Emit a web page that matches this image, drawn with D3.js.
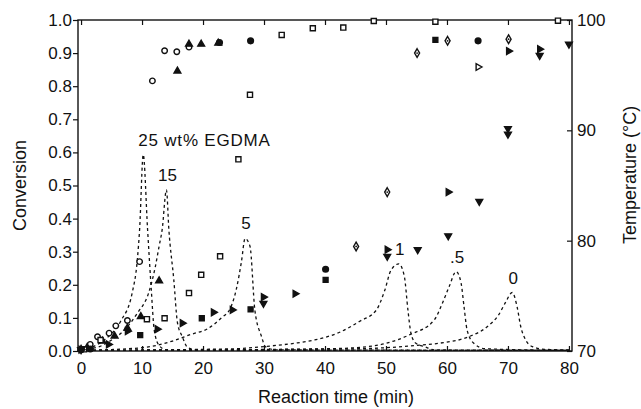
<!DOCTYPE html>
<html>
<head>
<meta charset="utf-8">
<script src="https://cdn.jsdelivr.net/npm/d3@7"></script>
<style>
  body { margin: 0; background: #fff; }
  text { font-family: "Liberation Sans", Arial, sans-serif; fill: #111; }
</style>
</head>
<body>
<div id="chart"></div>
<script>
// ---- data ----
const timeTicks = [0, 10, 20, 30, 40, 50, 60, 70, 80];
const convTicks = [0, 0.1, 0.2, 0.3, 0.4, 0.5, 0.6, 0.7, 0.8, 0.9, 1.0];
const tempTicks = [70, 80, 90, 100];

// conversion points [time (min), conversion], grouped by marker
const openCircles = [[0, 0.005], [1.5, 0.02], [2.7, 0.043], [4.6, 0.054], [5.7, 0.076], [7.6, 0.092], [9.6, 0.27], [11.7, 0.816], [13.7, 0.907], [15.7, 0.904], [17.7, 0.918]];
const filledTriangles = [[0, 0.005], [1, 0.01], [3.5, 0.03], [5.5, 0.045], [7.6, 0.069], [9.8, 0.104], [12.8, 0.212], [15.8, 0.846], [17.7, 0.927], [19.7, 0.927], [22.5, 0.93]];
const openSquares = [[0.5, 0.005], [3.2, 0.033], [10.8, 0.096], [13.7, 0.099], [17.7, 0.175], [19.7, 0.23], [22.8, 0.286], [25.8, 0.579], [27.7, 0.774], [32.9, 0.955], [38, 0.975], [43, 0.977], [48, 0.997], [58.1, 0.995], [78.2, 0.998]];
const filledCircles = [[0, 0.004], [1.5, 0.006], [22.7, 0.932], [27.8, 0.937], [40.1, 0.247], [65.1, 0.937]];
const filledSquares = [[9.7, 0.048], [19.8, 0.099], [27.8, 0.126], [40.1, 0.215], [58.1, 0.94]];
const openDiamonds = [[45.1, 0.316], [50.2, 0.48], [55.1, 0.9], [60.1, 0.937], [70.1, 0.942]];
const rightTriangles = [[0, 0.004], [4.5, 0.02], [7.6, 0.06], [12.5, 0.066], [16.6, 0.084], [21.7, 0.117], [24.8, 0.124], [29.9, 0.163], [35.1, 0.173], [50.2, 0.306], [60.2, 0.48], [70.1, 0.906], [75.2, 0.912]];
const openRightTriangles = [[65.1, 0.858]];
const downTriangles = [[0, 0.004], [29.9, 0.144], [50.2, 0.286], [55.2, 0.306], [60.2, 0.348], [65.3, 0.452], [70, 0.655], [70, 0.672], [75.2, 0.893], [80, 0.927]];

// temperature curves [time (min), temperature (C)]
const temp25 = [[0, 70.1], [2, 70.4], [3.8, 71.0], [6.5, 72.7], [8.4, 75.3], [9.2, 78.1], [9.6, 81.0], [10.2, 87.8], [10.9, 81.1], [11.5, 75.7], [12, 71.9], [12.8, 70.5], [14, 70.1], [20, 70.05], [80, 70.05]];
const temp15 = [[0, 70.1], [3, 70.4], [5, 71.0], [7.1, 71.9], [9.2, 73.4], [11.1, 75.3], [12.2, 77.7], [12.8, 79.5], [13.3, 81.0], [14, 84.6], [14.4, 81.0], [15.2, 76.5], [15.8, 72.6], [16.6, 71.3], [17.5, 70.3], [19, 70.1], [80, 70.05]];
const temp5 = [[0, 70.05], [10, 70.3], [15, 70.9], [18, 71.5], [20.7, 72.0], [23, 73.0], [24.5, 73.9], [25.5, 75.7], [26.3, 78.1], [26.9, 80.2], [27.7, 79.5], [28.5, 73.7], [29.6, 71.3], [30.2, 70.4], [32, 70.1], [80, 70.05]];
const temp1 = [[0, 70.05], [25, 70.2], [30, 70.4], [35, 70.7], [38.3, 71.0], [42.4, 71.7], [45.7, 72.7], [48.4, 73.7], [49.8, 75.5], [50.8, 77.3], [52.1, 77.9], [53, 76.8], [53.6, 73.7], [54.1, 71.6], [54.9, 70.7], [56.3, 70.4], [58, 70.1], [80, 70.05]];
const temp05 = [[0, 70.05], [40, 70.2], [45, 70.3], [50, 70.7], [54, 71.5], [57.9, 72.8], [59.3, 74.4], [60.4, 75.9], [61.5, 77.2], [62.3, 76.2], [62.8, 74.0], [63.3, 71.9], [64.4, 70.7], [66.3, 70.2], [80, 70.05]];
const temp0 = [[0, 70.05], [45, 70.2], [55, 70.5], [58.7, 70.7], [63.6, 71.3], [66.6, 72.2], [68.5, 73.3], [69.6, 74.4], [70.7, 75.3], [71.5, 74.0], [72.1, 72.2], [72.9, 71.0], [74, 70.4], [76, 70.15], [80, 70.1]];

const tempCurves = [temp25, temp15, temp5, temp1, temp05, temp0];
const curveLabels = ["25 wt% EGDMA", "15", "5", "1", ".5", "0"];

// ---- layout ----
const W = 641, H = 409;
const frame = { left: 78, right: 572, top: 20, bottom: 351 };

const svg = d3.select("#chart").append("svg")
    .attr("width", W)
    .attr("height", H);

const x = d3.scaleLinear().domain([-0.5, 80.5]).range([frame.left, frame.right]);
const y = d3.scaleLinear().domain([0, 1]).range([frame.bottom, frame.top]);
const yT = d3.scaleLinear().domain([70, 100]).range([frame.bottom, frame.top]);

// frame
svg.append("rect")
    .attr("x", frame.left).attr("y", frame.top)
    .attr("width", frame.right - frame.left)
    .attr("height", frame.bottom - frame.top)
    .attr("fill", "none")
    .attr("stroke", "#111")
    .attr("stroke-width", 1.4);

// bottom axis (ticks inward)
const xAxis = svg.append("g")
    .attr("transform", `translate(0,${frame.bottom})`)
    .call(d3.axisBottom(x).tickValues(timeTicks).tickSize(-5).tickPadding(11).tickFormat(d3.format("d")));

// top axis, ticks only
const xTop = svg.append("g")
    .attr("transform", `translate(0,${frame.top})`)
    .call(d3.axisTop(x).tickValues(timeTicks).tickSize(-5).tickFormat(""));

// left axis (ticks outward)
const yAxis = svg.append("g")
    .attr("transform", `translate(${frame.left},0)`)
    .call(d3.axisLeft(y).tickValues(convTicks).tickSize(5).tickPadding(1).tickFormat(d3.format(".1f")));

// right axis (ticks inward)
const yAxisR = svg.append("g")
    .attr("transform", `translate(${frame.right},0)`)
    .call(d3.axisRight(yT).tickValues(tempTicks).tickSize(-5).tickPadding(5).tickFormat(d3.format("d")));

[xAxis, xTop, yAxis, yAxisR].forEach(g => {
    g.select(".domain").remove();
    g.selectAll("line").attr("stroke", "#111").attr("stroke-width", 1.2);
    g.selectAll("text")
        .attr("font-family", "Liberation Sans, Arial, sans-serif")
        .attr("font-size", "17px")
        .attr("fill", "#111");
});

// axis titles
svg.append("text")
    .attr("transform", `translate(26,${(frame.top + frame.bottom) / 2}) rotate(-90)`)
    .attr("text-anchor", "middle")
    .attr("font-size", "18px")
    .text("Conversion");

svg.append("text")
    .attr("transform", `translate(636,175) rotate(-90)`)
    .attr("text-anchor", "middle")
    .attr("font-size", "18px")
    .text("Temperature (\u00B0C)");

svg.append("text")
    .attr("x", 336)
    .attr("y", 403)
    .attr("text-anchor", "middle")
    .attr("font-size", "18px")
    .text("Reaction time (min)");

// dashed temperature curves
const line = d3.line()
    .x(d => x(d[0]))
    .y(d => yT(d[1]))
    .curve(d3.curveMonotoneX);

svg.selectAll(".temp-curve")
    .data(tempCurves)
    .enter().append("path")
    .attr("class", "temp-curve")
    .attr("d", line)
    .attr("fill", "none")
    .attr("stroke", "#111")
    .attr("stroke-width", 1.3)
    .attr("stroke-dasharray", "3,3");

// curve labels, placed above each peak
tempCurves.forEach((c, i) => {
    const peak = c.reduce((a, b) => (b[1] > a[1] ? b : a));
    svg.append("text")
        .attr("x", x(peak[0]) + (i === 0 ? -5 : 1))
        .attr("y", yT(peak[1]) - 9)
        .attr("text-anchor", i === 0 ? "start" : "middle")
        .attr("font-size", "17px")
        .attr("letter-spacing", i === 0 ? "0.8px" : "0px")
        .text(curveLabels[i]);
});

// conversion markers
const markerSets = [
    { data: openCircles, type: d3.symbolCircle, size: 24, rot: 0, filled: false, dot: false },
    { data: filledTriangles, type: d3.symbolTriangle, size: 20, rot: 0, filled: true, dot: false },
    { data: openSquares, type: d3.symbolSquare, size: 26, rot: 0, filled: false, dot: false },
    { data: filledCircles, type: d3.symbolCircle, size: 26, rot: 0, filled: true, dot: false },
    { data: filledSquares, type: d3.symbolSquare, size: 24, rot: 0, filled: true, dot: false },
    { data: openDiamonds, type: d3.symbolDiamond, size: 22, rot: 0, filled: false, dot: true },
    { data: rightTriangles, type: d3.symbolTriangle, size: 20, rot: 90, filled: true, dot: false },
    { data: openRightTriangles, type: d3.symbolTriangle, size: 20, rot: 90, filled: false, dot: false },
    { data: downTriangles, type: d3.symbolTriangle, size: 20, rot: 180, filled: true, dot: false }
];

markerSets.forEach(m => {
    const sym = d3.symbol().type(m.type).size(m.size);
    const g = svg.append("g");
    g.selectAll("path")
        .data(m.data)
        .enter().append("path")
        .attr("d", sym)
        .attr("transform", d => `translate(${x(d[0])},${y(d[1])}) rotate(${m.rot})`)
        .attr("fill", m.filled ? "#111" : "#fff")
        .attr("stroke", "#111")
        .attr("stroke-width", 1.4);
    if (m.dot) {
        g.selectAll("circle")
            .data(m.data)
            .enter().append("circle")
            .attr("cx", d => x(d[0]))
            .attr("cy", d => y(d[1]))
            .attr("r", 0.9)
            .attr("fill", "#111");
    }
});
</script>
</body>
</html>
